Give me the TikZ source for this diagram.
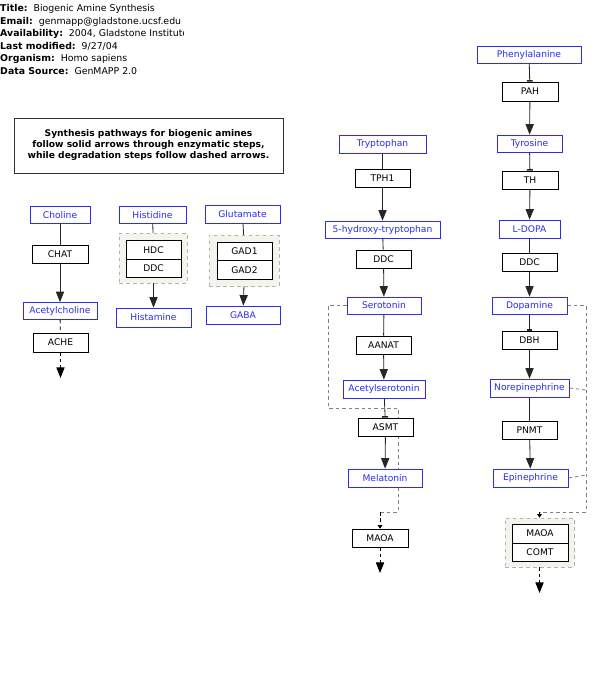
\documentclass[tikz,border=0pt]{standalone}
\usepackage{fontspec}
\setmainfont{DejaVu Sans}
\usetikzlibrary{arrows.meta}
\pgfdeclarelayer{bg}
\pgfsetlayers{bg,main}
\definecolor{metblue}{RGB}{45,45,235}
\definecolor{grpfill}{RGB}{244,244,238}

\begin{document}
\begin{tikzpicture}[x=0.03cm, y=-0.03cm,
  met/.style={draw=metblue, text=metblue, fill=white, line width=0.6pt,
              minimum height=0.51cm, inner sep=0pt, font=\fontsize{7.8}{9}\selectfont},
  enz/.style={draw=black, fill=white, line width=0.6pt, minimum width=1.65cm,
              minimum height=0.54cm, inner sep=0pt, font=\fontsize{7.8}{9}\selectfont},
  grp/.style={draw=gray!60, dashed, fill=grpfill, line width=0.6pt, inner sep=0pt},
  link/.style={black!85, line width=0.7pt},
  conv/.style={link, -{Triangle[length=9pt,width=7pt]}},
  bind/.style={link, -{Bar[width=5pt,line width=1.3pt]}},
  deg/.style={black, line width=0.7pt, dash pattern=on 3pt off 2.5pt},
  degloop/.style={gray, line width=0.7pt, dash pattern=on 3pt off 2.5pt},
  hdr/.style={inner sep=0pt, anchor=base west, font=\fontsize{8}{9}\selectfont},
  note/.style={draw=black!80, line width=0.6pt, align=center,
               minimum width=8.07cm, minimum height=1.65cm,
               font=\bfseries\fontsize{7.8}{9.4}\selectfont},
]
  \useasboundingbox (0,0) rectangle (605,678);

  % --- header ---
  \begin{scope}
    \clip (0,0) rectangle (183,80);
    \foreach \lbl/\val [count=\i] in {Title:/Biogenic Amine Synthesis,
        Email:/genmapp@gladstone.ucsf.edu,
        Availability:/{2004, Gladstone Institute},
        Last modified:/{9/27/04}, Organism:/Homo sapiens,
        Data Source:/GenMAPP 2.0}
      \node[hdr] (hdr\i) at (0,{-1+12.6*\i}) {\textbf{\lbl}\ \ \val};
  \end{scope}

  \node[note] (legend) at (148.5,145.5) {Synthesis pathways for biogenic amines\\
    follow solid arrows through enzymatic steps,\\
    while degradation steps follow dashed arrows.};

  % --- acetylcholine ---
  \node[met, minimum width=1.8cm]  (choline) at (60,215) {Choline};
  \node[enz, minimum width=1.68cm] (chat) at (60,254.5) {CHAT};
  \node[met, minimum width=2.22cm] (acetylcholine) at (60,311) {Acetylcholine};
  \node[enz, minimum height=0.57cm] (ache) at (60.5,342.5) {ACHE};
  \coordinate (acheout) at (60.5,378);

  % --- histamine ---
  \node[met, minimum width=2.01cm] (histidine) at (152.5,215) {Histidine};
  \node[grp, minimum width=2.04cm, minimum height=1.5cm] (grp1) at (153,258) {};
  \node[enz, minimum height=0.555cm] (hdc) at (153.5,250) {HDC};
  \node[enz, minimum height=0.555cm] (ddc1) at (153.5,268.5) {DDC};
  \node[met, minimum width=2.25cm, minimum height=0.57cm] (histamine) at (153.5,317.5) {Histamine};

  % --- GABA ---
  \node[met, minimum width=2.25cm, minimum height=0.54cm] (glutamate) at (242.5,214) {Glutamate};
  \node[grp, minimum width=2.1cm, minimum height=1.53cm] (grp2) at (244,260.5) {};
  \node[enz, minimum height=0.555cm] (gad1) at (244.5,251.5) {GAD1};
  \node[enz, minimum height=0.555cm] (gad2) at (244.5,270) {GAD2};
  \node[met, minimum width=2.22cm, minimum height=0.54cm] (gaba) at (243,315) {GABA};

  % --- serotonin / melatonin ---
  \node[met, minimum width=2.61cm, minimum height=0.54cm] (tryptophan) at (382.5,144) {Tryptophan};
  \node[enz] (tph) at (382.5,178) {TPH1};
  \node[met, minimum width=3.45cm] (htp) at (382.5,229.5) {5-hydroxy-tryptophan};
  \node[enz] (ddc2) at (383.5,259) {DDC};
  \node[met, minimum width=2.22cm] (serotonin) at (384,305.5) {Serotonin};
  \node[enz] (aanat) at (383.5,345) {AANAT};
  \node[met, minimum width=2.46cm, minimum height=0.54cm] (acetylserotonin) at (384,389) {Acetylserotonin};
  \node[enz] (asmt) at (385.5,427) {ASMT};
  \node[met, minimum width=2.22cm, minimum height=0.54cm] (melatonin) at (385,478) {Melatonin};
  \node[enz, minimum width=1.68cm] (maoa1) at (380,538) {MAOA};
  \coordinate (maoaout) at (380,573);

  % --- catecholamines ---
  \node[met, minimum width=3.12cm] (phenylalanine) at (529,54.5) {Phenylalanine};
  \node[enz, minimum width=1.68cm, minimum height=0.57cm] (pah) at (530,91.5) {PAH};
  \node[met, minimum width=1.95cm] (tyrosine) at (529.5,143.5) {Tyrosine};
  \node[enz, minimum width=1.68cm] (th) at (530,180) {TH};
  \node[met, minimum width=1.83cm, minimum height=0.54cm] (ldopa) at (529.5,229) {L-DOPA};
  \node[enz] (ddc3) at (529.5,262) {DDC};
  \node[met, minimum width=2.25cm] (dopamine) at (529.5,305.5) {Dopamine};
  \node[enz] (dbh) at (529.5,340) {DBH};
  \node[met, minimum width=2.37cm, minimum height=0.54cm] (norepinephrine) at (529.5,388) {Norepinephrine};
  \node[enz] (pnmt) at (529.5,430) {PNMT};
  \node[met, minimum width=2.25cm, minimum height=0.54cm] (epinephrine) at (530.5,478) {Epinephrine};
  \node[grp, minimum width=2.07cm, minimum height=1.47cm] (grp3) at (539.5,542.5) {};
  \node[enz, minimum width=1.68cm, minimum height=0.57cm] (maoa2) at (540,533.5) {MAOA};
  \node[enz, minimum width=1.68cm, minimum height=0.54cm] (comt) at (540,552) {COMT};
  \coordinate (comtout) at (539.5,593);

  \begin{pgfonlayer}{bg}
    \draw[link] (choline) -- (chat);
    \draw[conv] (chat) -- (acetylcholine);
    \draw[deg] (acetylcholine) -- (ache);
    \draw[deg, -{Triangle[length=9pt,width=7pt]}] (ache) -- (acheout);

    \draw[link] (histidine) -- (hdc);
    \draw[conv] (ddc1) -- (histamine);
    \draw[link] (glutamate) -- (gad1);
    \draw[conv] (gad2) -- (gaba);

    \draw[link] (tryptophan) -- (tph);
    \draw[conv] (tph) -- (htp);
    \draw[link] (htp) -- (ddc2);
    \draw[conv] (ddc2) -- (serotonin);
    \draw[link] (serotonin) -- (aanat);
    \draw[conv] (aanat) -- (acetylserotonin);
    \draw[bind] (acetylserotonin) -- (asmt);
    \draw[conv] (asmt) -- (melatonin);
    \draw[degloop] (serotonin.west) -- (328,305.5) -- (328,408) -- (398,408)
      -- (398,512) -- (380,512);
    \draw[deg, -{Triangle[length=3pt,width=4pt]}] (380,512) -- (maoa1.north);
    \draw[deg, -{Triangle[length=9pt,width=7pt]}] (maoa1) -- (maoaout);

    \draw[bind] (phenylalanine) -- (pah);
    \draw[conv] (pah) -- (tyrosine);
    \draw[bind] (tyrosine) -- (th);
    \draw[conv] (th) -- (ldopa);
    \draw[link] (ldopa) -- (ddc3);
    \draw[conv] (ddc3) -- (dopamine);
    \draw[bind] (dopamine) -- (dbh);
    \draw[conv] (dbh) -- (norepinephrine);
    \draw[link] (norepinephrine) -- (pnmt);
    \draw[conv] (pnmt) -- (epinephrine);
    \draw[degloop] (dopamine.east) -- (586,305.5) -- (586,512) -- (539.5,512);
    \draw[degloop] (norepinephrine.east) -- (586,390);
    \draw[degloop] (epinephrine.east) -- (586,475);
    \draw[deg, -{Triangle[length=3pt,width=4pt]}] (539.5,512) -- (grp3.north);
    \draw[deg, -{Triangle[length=9pt,width=7pt]}] (grp3) -- (comtout);
  \end{pgfonlayer}
\end{tikzpicture}
\end{document}
